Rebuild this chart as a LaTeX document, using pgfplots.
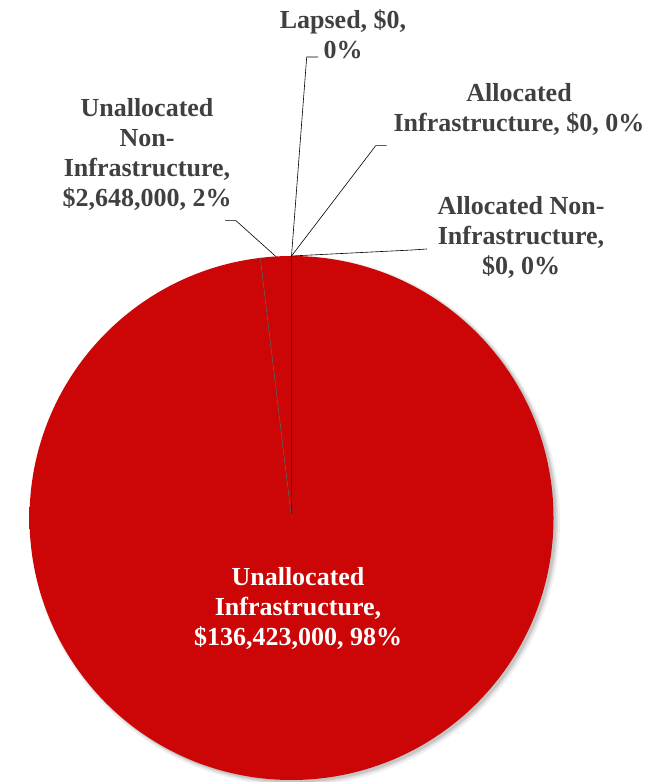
\documentclass[border=0pt]{standalone}
\usepackage{pgfplots}
\pgfplotsset{compat=1.18}
\usepackage{pgfplotstable}
\usepackage{fontspec}
\setmainfont{Liberation Serif}

\definecolor{piered}{RGB}{204,6,6}
\definecolor{pielight}{RGB}{232,34,34}
\definecolor{piedark}{RGB}{160,0,0}
\definecolor{labelgray}{RGB}{64,64,64}
% rim bevel: flat red, lighter band near the edge, dark outline
\pgfdeclareradialshading{pierim}{\pgfpoint{0bp}{0bp}}{color(0bp)=(piered); color(46bp)=(piered); color(49.1bp)=(pielight); color(50bp)=(piedark)}

% slices in Excel order, clockwise from 12 o'clock
\pgfplotstableread{
name value
UI  136423000
UNI 2648000
AI  0
ANI 0
L   0
}\piedata

\begin{document}
\begin{tikzpicture}
\pgfplotstablegetelem{0}{value}\of\piedata \edef\vUI{\pgfplotsretval}
\pgfplotstablegetelem{1}{value}\of\piedata \edef\vUNI{\pgfplotsretval}
\pgfplotstablegetelem{2}{value}\of\piedata \edef\vAI{\pgfplotsretval}
\pgfplotstablegetelem{3}{value}\of\piedata \edef\vANI{\pgfplotsretval}
\pgfplotstablegetelem{4}{value}\of\piedata \edef\vL{\pgfplotsretval}
\edef\total{\fpeval{\vUI+\vUNI+\vAI+\vANI+\vL}}
\edef\aA{\fpeval{90-360*\vUI/\total}}
\edef\aB{\fpeval{\aA-360*\vUNI/\total}}
\edef\mB{\fpeval{(\aA+\aB)/2}}
\def\cx{291.5}\def\cy{264}\def\R{262}
\tikzset{lbl/.style={labelgray,align=center,font=\bfseries\fontsize{26bp}{30bp}\selectfont}}
\begin{axis}[
    width=651bp, height=782bp, scale only axis,
    xmin=0, xmax=651, ymin=0, ymax=782,
    hide axis, clip=false,
]
% soft shadow, down and to the right
\fill[black,opacity=0.06] (axis cs:295,261) circle[radius=265bp];
\fill[black,opacity=0.08] (axis cs:294.5,261.5) circle[radius=263.5bp];
\fill[black,opacity=0.10] (axis cs:294,262) circle[radius=262.5bp];

% Unallocated Infrastructure
\begin{scope}
\clip (axis cs:\cx,\cy) -- ++(90:\R bp) arc[start angle=90, end angle=\aA, radius=\R bp] -- cycle;
\shade[shading=pierim] (axis cs:\cx,\cy) circle[radius=\R bp];
\end{scope}
% Unallocated Non-Infrastructure
\begin{scope}
\clip (axis cs:\cx,\cy) -- ++(\aA:\R bp) arc[start angle=\aA, end angle=\aB, radius=\R bp] -- cycle;
\shade[shading=pierim] (axis cs:\cx,\cy) circle[radius=\R bp];
\end{scope}

% slice borders
\draw[black!85,line width=0.9pt] (axis cs:\cx,\cy) -- ++(90:\R bp);
\draw[black!65,line width=0.6pt] (axis cs:\cx,\cy) -- ++(\aA:\R bp);

% leader lines
\draw[black,line width=0.6pt] (axis cs:\cx,\cy) ++(\mB:\R bp) -- (axis cs:236,561.3) -- (axis cs:225,561.3);
\draw[black,line width=0.6pt] (axis cs:\cx,\cy) ++(90:\R bp) -- (axis cs:306.7,725) -- (axis cs:318,725);
\draw[black,line width=0.6pt] (axis cs:\cx,\cy) ++(90:\R bp) -- (axis cs:375.7,636.3) -- (axis cs:386.7,636.3);
\draw[black,line width=0.6pt] (axis cs:\cx,\cy) ++(90:\R bp) -- (axis cs:412,532) -- (axis cs:427,533);

% data labels
\node[lbl] at (axis cs:343,748) {Lapsed, \$0,\\0\%};
\node[lbl] at (axis cs:519,672) {Allocated\\Infrastructure, \$0, 0\%};
\node[lbl] at (axis cs:521,544) {Allocated Non-\\Infrastructure,\\\$0, 0\%};
\node[lbl] at (axis cs:147,627) {Unallocated\\Non-\\Infrastructure,\\\$2,648,000, 2\%};
\node[lbl,white] at (axis cs:298,174) {Unallocated\\Infrastructure,\\\$136,423,000, 98\%};
\end{axis}
\pgfresetboundingbox
\path[use as bounding box] (0,0) rectangle (651bp,782bp);
\end{tikzpicture}
\end{document}
